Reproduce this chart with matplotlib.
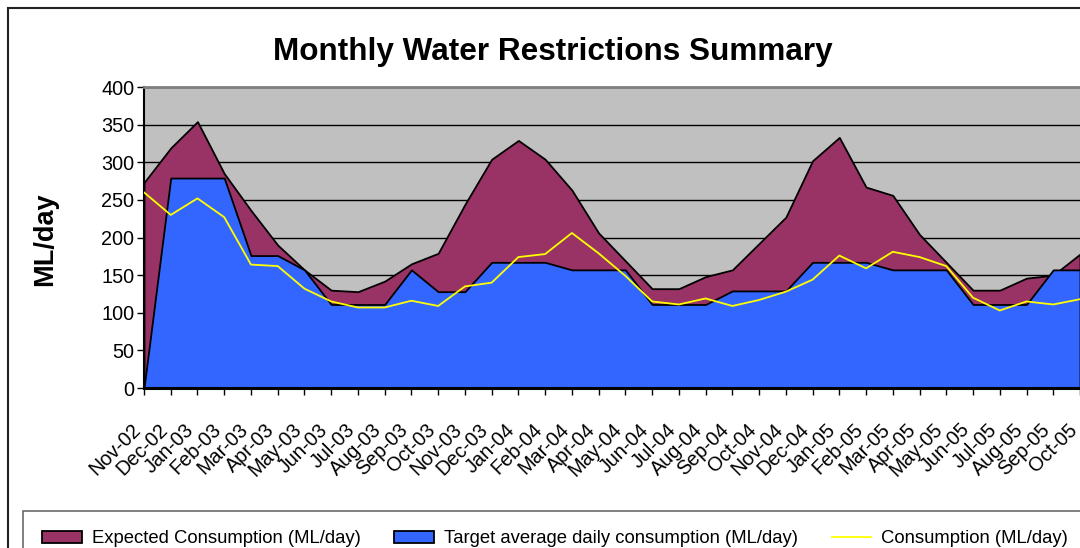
import matplotlib
matplotlib.use("Agg")
import matplotlib.pyplot as plt
import matplotlib.transforms as mtransforms
from matplotlib.patches import Rectangle

plt.rcParams['font.family'] = ['Liberation Sans', 'DejaVu Sans']

# Monthly values, Nov-02 .. Oct-05
months = ['Nov-02', 'Dec-02', 'Jan-03', 'Feb-03', 'Mar-03', 'Apr-03', 'May-03', 'Jun-03',
          'Jul-03', 'Aug-03', 'Sep-03', 'Oct-03', 'Nov-03', 'Dec-03', 'Jan-04', 'Feb-04',
          'Mar-04', 'Apr-04', 'May-04', 'Jun-04', 'Jul-04', 'Aug-04', 'Sep-04', 'Oct-04',
          'Nov-04', 'Dec-04', 'Jan-05', 'Feb-05', 'Mar-05', 'Apr-05', 'May-05', 'Jun-05',
          'Jul-05', 'Aug-05', 'Sep-05', 'Oct-05']
expected = [273, 319, 354, 285, 236, 190, 157, 130, 128, 142, 165, 179,
            244, 304, 329, 304, 263, 206, 169, 132, 132, 148, 157, 192,
            227, 302, 333, 267, 256, 204, 167, 130, 130, 146, 150, 178]
target = [0, 279, 279, 279, 176, 176, 157, 111, 111, 111, 157, 128,
          128, 167, 167, 167, 157, 157, 157, 111, 111, 111, 129, 129,
          129, 167, 167, 167, 157, 157, 157, 111, 111, 111, 157, 157]
consumption = [260, 230, 252, 227, 164, 162, 132, 115, 107, 107, 116, 109,
               135, 140, 174, 178, 206, 179, 149, 115, 111, 119, 109, 117,
               128, 144, 176, 159, 181, 174, 162, 120, 103, 115, 111, 118]

W, H = 1080, 548
fig = plt.figure(figsize=(W / 100, H / 100), dpi=100)

# outer chart border (continues past the right/bottom edge of the crop)
fig.patches.append(Rectangle((8 / W, -0.2), 1.2, 1 - 8 / H + 0.2, transform=fig.transFigure,
                             fill=False, edgecolor='#222222', linewidth=1.5))

ax = fig.add_axes([144 / W, 1 - 388 / H, (W - 144) / W, 301 / H])
ax.set_facecolor('#C0C0C0')

x = list(range(len(months)))
ax.fill_between(x, 0, expected, facecolor='#993366', edgecolor='black', linewidth=1.3,
                label='Expected Consumption (ML/day)', zorder=2)
ax.fill_between(x, 0, target, facecolor='#3366FF', edgecolor='black', linewidth=1.3,
                label='Target average daily consumption (ML/day)', zorder=3)
ax.plot(x, consumption, color='#FFFF00', linewidth=1.3, label='Consumption (ML/day)', zorder=4)

ax.set_xlim(0, len(months) - 1)
ax.set_ylim(0, 400)
ax.set_yticks(range(0, 401, 50))
ax.yaxis.grid(True, color='black', linewidth=1)
ax.set_axisbelow(True)

ax.tick_params(axis='y', labelsize=14.3, length=5, width=1, pad=2)
ax.tick_params(axis='x', length=5, width=1, pad=18)
ax.set_xticks(x)
ax.set_xticklabels(months, rotation=45, ha='right', va='top', rotation_mode='anchor',
                   fontsize=14.3)
# nudge the rotated labels a little to the left, like the original
shift = mtransforms.ScaledTranslation(-13 / 100, 0, fig.dpi_scale_trans)
for lbl in ax.get_xticklabels():
    lbl.set_transform(lbl.get_transform() + shift)

ax.spines['right'].set_visible(False)
ax.spines['top'].set_color('#808080')
ax.spines['top'].set_linewidth(2)
ax.spines['left'].set_linewidth(1.5)
ax.spines['bottom'].set_linewidth(2.2)
ax.spines['bottom'].set_zorder(5)

fig.text(553 / W, 1 - 52 / H, 'Monthly Water Restrictions Summary', ha='center', va='center',
         fontsize=22.7, fontweight='bold')
fig.text(45 / W, 1 - 239 / H, 'ML/day', ha='center', va='center', rotation=90,
         fontsize=19.5, fontweight='bold')

leg = fig.legend(loc='upper left', bbox_to_anchor=(23 / W, 1 - 511 / H), ncol=3,
                 fontsize=13.3, frameon=True, fancybox=False, edgecolor='#444444',
                 borderpad=1.05, handlelength=2.15, handleheight=0.6, handletextpad=0.55,
                 columnspacing=1.8, borderaxespad=0)
leg.get_frame().set_linewidth(1.2)

fig.savefig('out.png', dpi=100)
